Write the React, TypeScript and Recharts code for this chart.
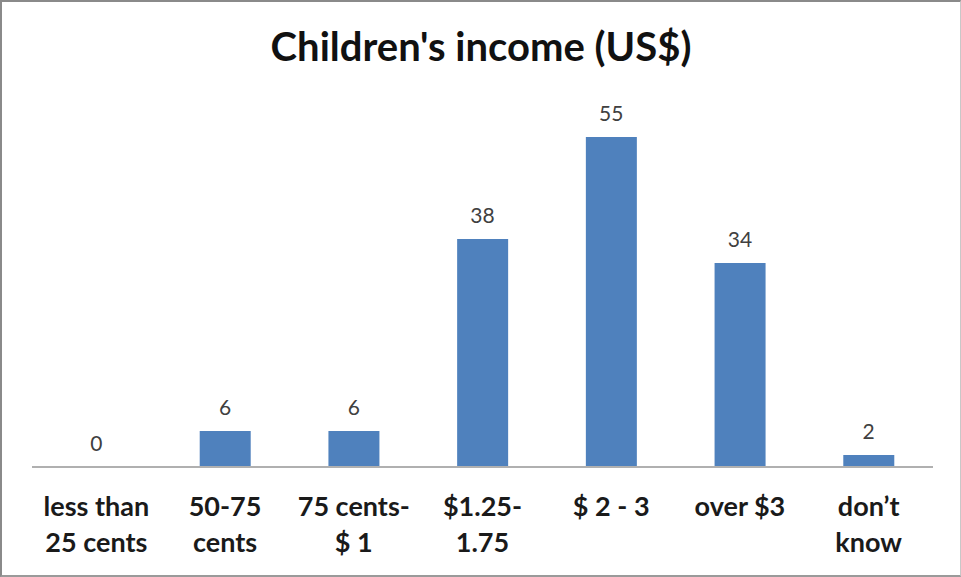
import { ComposedChart, Bar, Line, XAxis, YAxis, LabelList } from "recharts";

const categories = ["less than 25 cents", "50-75 cents", "75 cents-$ 1", "$1.25-1.75", "$ 2 - 3", "over $3", "don’t know"];
const tickLines = [
  ["less than", "25 cents"],
  ["50-75", "cents"],
  ["75 cents-", "$ 1"],
  ["$1.25-", "1.75"],
  ["$ 2 - 3"],
  ["over $3"],
  ["don’t", "know"],
];
const children = [0, 6, 6, 38, 55, 34, 2];

const data = categories.map((name, i) => ({ name, value: children[i] }));

const font = "Lato, 'Open Sans', sans-serif";

const CategoryTick = (props: any) => {
  const { x, y, index } = props;
  const lines = tickLines[index] || [];
  return (
    <g transform={`translate(${x},${y})`}>
      {lines.map((l, i) => (
        <text
          key={i}
          x={0}
          y={0}
          dy={41 + i * 36}
          textAnchor='middle'
          fill='#1a1a1a'
          fontFamily={font}
          fontWeight={700}
          fontSize={27}>
          {l}
        </text>
      ))}
    </g>
  );
};

export default function App(): JSX.Element {
  return (
    <div
      style={{
        position: "absolute",
        left: 0,
        top: 0,
        width: 961,
        height: 577,
        background: "#fff",
        boxSizing: "border-box",
        borderLeft: "2px solid #8a8a8a",
        borderTop: "2px solid #8a8a8a",
        borderRight: "1px solid #c8c8c8",
        borderBottom: "2px solid #9a9a9a",
      }}>
      <div
        style={{
          position: "absolute",
          left: 0,
          right: 0,
          top: 20,
          textAlign: "center",
          fontFamily: font,
          fontWeight: 700,
          fontSize: 40,
          color: "#111",
        }}>
        Children's income (US$)
      </div>
      <div style={{ position: "absolute", left: -2, top: -2 }}>
        <ComposedChart width={961} height={577} data={data} margin={{ top: 107, right: 28, left: 32, bottom: 10 }}>
          <XAxis
            dataKey='name'
            height={100}
            axisLine={{ stroke: "#b0b0b0", strokeWidth: 2 }}
            tickLine={false}
            tick={<CategoryTick />}
            interval={0}
          />
          <YAxis hide domain={[0, 60]} />
          <Bar dataKey='value' fill='#4f81bd' isAnimationActive={false} barSize={51} />
          <Line dataKey='value' stroke='none' dot={false} activeDot={false} isAnimationActive={false}>
            <LabelList dataKey='value' position='top' offset={16} fill='#404040' fontSize={21} fontFamily={font} />
          </Line>
        </ComposedChart>
      </div>
    </div>
  );
}
